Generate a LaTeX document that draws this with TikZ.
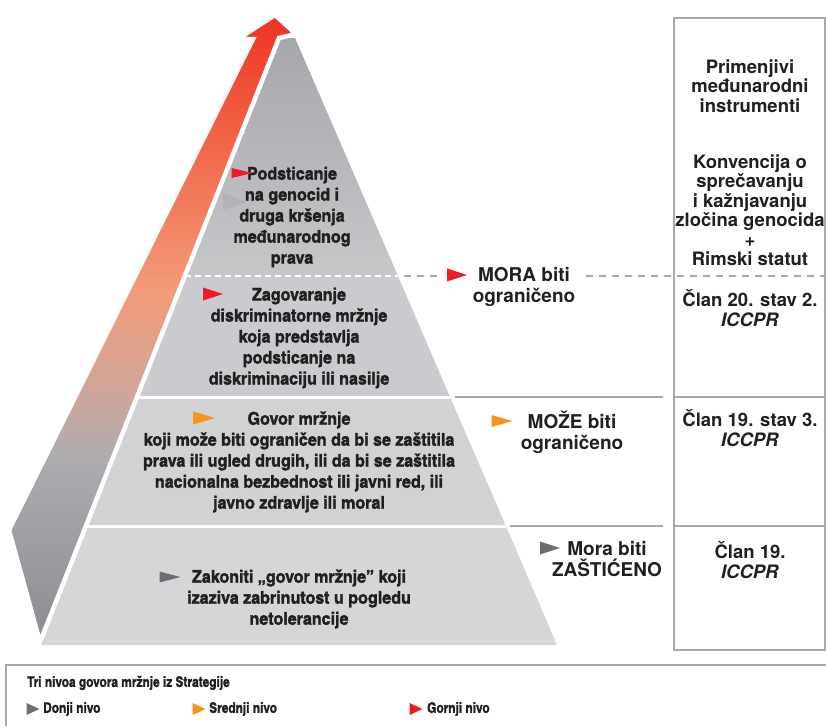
\documentclass[tikz,border=0pt]{standalone}
\usepackage{fontspec}
\setmainfont{TeX Gyre Heros}
\newfontfamily\narrowfont[FakeStretch=1.12,FakeBold=1.6]{texgyreheroscn-bold.otf}
\newfontfamily\keyfont[FakeBold=1.4]{texgyreheroscn-bold.otf}
\usepackage{tikz}
\usetikzlibrary{positioning}

\definecolor{ink}{HTML}{231F20}
\definecolor{rulegray}{HTML}{A7A9AC}
\definecolor{flagred}{HTML}{ED1C24}
\definecolor{flagorange}{HTML}{F7941D}
\definecolor{flaggray}{HTML}{6D6E71}
\definecolor{tiertop}{HTML}{A6A7AB}
\definecolor{tiermid}{HTML}{C6C7C9}
\definecolor{tierlow}{HTML}{D1D2D4}
% arrow fade, bottom to top
\definecolor{riseA}{RGB}{140,141,145}
\definecolor{riseB}{RGB}{172,172,176}
\definecolor{riseC}{RGB}{212,165,150}
\definecolor{riseD}{RGB}{243,155,120}
\definecolor{riseE}{RGB}{240,95,65}
\definecolor{riseF}{RGB}{237,50,36}
\pgfdeclareverticalshading{risefade}{100bp}{color(0bp)=(riseA); color(25bp)=(riseA);
  color(39.5bp)=(riseB); color(45.9bp)=(riseC); color(53.1bp)=(riseD);
  color(66.6bp)=(riseE); color(75bp)=(riseF); color(100bp)=(riseF)}

% triangle marker: x, y, half width, half height, colour
\newcommand\flag[5]{\fill[#5] (#1-#3,#2-#4) -- (#1+#3,#2) -- (#1-#3,#2+#4) -- cycle;}

\tikzset{
  pyrtext/.style={font=\narrowfont\fontsize{17.5}{21}\selectfont, align=center, text=ink, inner sep=0pt},
  sidetext/.style={font=\bfseries\fontsize{19}{21}\selectfont, align=center, text=ink, inner sep=0pt},
  coltext/.style={font=\bfseries\fontsize{18.5}{19.5}\selectfont, align=center, text=ink, inner sep=0pt},
  legtext/.style={font=\keyfont\fontsize{14.5}{18}\selectfont, text=ink, inner sep=0pt, anchor=west},
  gapline/.style={white, line width=3pt},
  rule/.style={rulegray, line width=2.6pt},
  dashrule/.style={rulegray, line width=2pt, dash pattern=on 7pt off 6pt},
  boxline/.style={rulegray, line width=1.4pt}
}

\begin{document}
\begin{tikzpicture}[x=1pt,y=-1pt]
    \useasboundingbox (0,0) rectangle (826,726);
        %Pyramid corners
    \coordinate (apexL) at (279,38);  \coordinate (apexR) at (295,38);
    \coordinate (t1l) at (185,276);   \coordinate (t1r) at (398,276);
    \coordinate (t2l) at (137,397);   \coordinate (t2r) at (450,397);
    \coordinate (t3l) at (86,526);    \coordinate (t3r) at (506,526);
    \coordinate (t4l) at (39,645);    \coordinate (t4r) at (557,645);
        %Tiers
    \shade[top color=tiertop, bottom color=tiermid] (apexL) -- (apexR) -- (t1r) -- (t1l) -- cycle;
    \fill[tiermid!60!tierlow] (t1l) -- (t1r) -- (t2r) -- (t2l) -- cycle;
    \fill[tierlow] (t2l) -- (t2r) -- (t3r) -- (t3l) -- cycle;
    \fill[tierlow!90!white] (t3l) -- (t3r) -- (t4r) -- (t4l) -- cycle;
    \draw[gapline, line width=2.5pt, dash pattern=on 6pt off 4pt] (t1l) -- (t1r);
    \foreach \t in {t2, t3}
    \draw[gapline] (\t l) -- (\t r);
        %Rising arrow
    \shadedraw[shading=risefade, draw=white, line width=4.5pt, line join=miter]
        (253,39) -- (238,39) -- (275,15) -- (296,34) -- (279,38) -- (40,642) -- (9,530) -- cycle;
        %Instruments column
    \draw[boxline] (674,18) rectangle (825,650);
    \coordinate (colL) at (674,0);  \coordinate (colR) at (825,0);
    \foreach \t in {t2, t3}
    \draw[boxline] (colL |- \t r) -- (colR |- \t r);
        %Level labels
    \node[sidetext] (must) at (524,287) {MORA biti\\ograničeno};
    \node[sidetext] (may) at (572,432) {MOŽE biti\\ograničeno};
    \node[sidetext] (protect) at (607,559) {Mora biti\\ZAŠTIĆENO};
    \flag{457}{275}{10}{6.5}{flagred}
    \flag{502}{421}{10.5}{6}{flagorange}
    \flag{550}{548}{10}{6.5}{flaggray}
        %Level rules
    \coordinate (m1) at (437,276);  \coordinate (m2) at (586,276);
    \draw[dashrule] ([xshift=6pt]t1r) -- (m1);
    \draw[dashrule] (m2) -- (colR |- m2);
    \draw[rule] ([xshift=5pt]t2r) -- ([xshift=-11pt]colL |- t2r);
    \draw[rule] ([xshift=4pt]t3r) -- ([xshift=-11pt]colL |- t3r);
        %Pyramid texts
    \node[pyrtext] (incite) at (292,217) {Podsticanje\\na genocid i\\druga kršenja\\međunarodnog\\prava};
    \node[pyrtext] (advocacy) at (299,338) {Zagovaranje\\diskriminatorne mržnje\\koja predstavlja\\podsticanje na\\diskriminaciju ili nasilje};
    \node[pyrtext] (speech) at (299,462) {Govor mržnje\\koji može biti ograničen da bi se zaštitila\\prava ili ugled drugih, ili da bi se zaštitila\\nacionalna bezbednost ili javni red, ili\\javno zdravlje ili moral};
    \node[pyrtext] (lawful) at (299,599) {Zakoniti „govor mržnje” koji\\izaziva zabrinutost u pogledu\\netolerancije};
    \flag{242}{173}{10.5}{5}{flagred}
    \fill[black, opacity=.05] (223,193) -- (247,202) -- (223,210) -- cycle;
    \flag{213}{294}{10}{6.5}{flagred}
    \flag{204}{418}{11}{6.5}{flagorange}
    \flag{170}{577}{10.5}{5.5}{flaggray}
        %Column texts
    \node[coltext] (instr) at (750,86) {Primenjivi\\međunarodni\\instrumenti};
    \node[coltext] (genocide) at (750,210) {Konvencija o\\sprečavanju\\i kažnjavanju\\zločina genocida\\+\\Rimski statut};
    \node[coltext] (art20) at (750,308) {Član 20. stav 2.\\\textit{ICCPR}};
    \node[coltext] (art193) at (750,428) {Član 19. stav 3.\\\textit{ICCPR}};
    \node[coltext] (art19) at (750,560) {Član 19.\\\textit{ICCPR}};
        %Legend
    \draw[boxline] (826,665) -- (6,665) -- (6,726);
    \node[legtext] (legend) at (27,683) {Tri nivoa govora mržnje iz Strategije};
    \node[legtext] (low) at (43,709) {Donji nivo};
    \node[legtext] (mid) at (209,709) {Srednji nivo};
    \node[legtext] (high) at (427,709) {Gornji nivo};
    \flag{33}{709}{6.5}{6}{flaggray}
    \flag{199}{709}{6.5}{6}{flagorange}
    \flag{416}{709}{6.5}{6}{flagred}
\end{tikzpicture}
\end{document}
